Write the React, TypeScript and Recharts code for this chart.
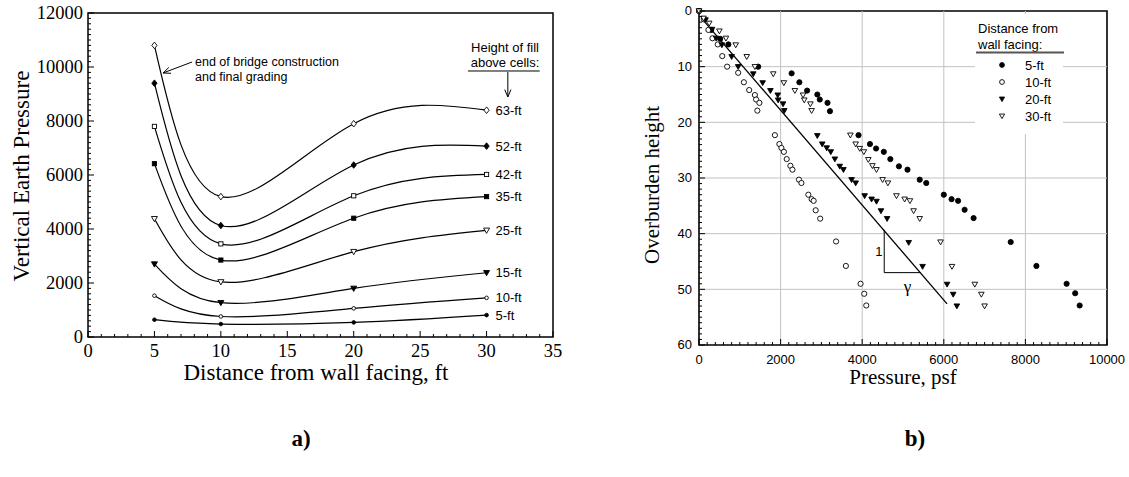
import React from "react";
import {
  LineChart,
  Line,
  XAxis,
  YAxis,
  ReferenceArea,
  ReferenceLine,
  ReferenceDot,
  ScatterChart,
  Scatter,
} from "recharts";

const SERIF = '"Liberation Serif", "Times New Roman", serif';
const SANS = '"Liberation Sans", Arial, sans-serif';

// ---- panel a: pressure vs distance from wall facing, one curve per fill height
const distances = [5, 10, 20, 30];
const fill63 = [10800, 5200, 7900, 8400];
const fill52 = [9400, 4130, 6370, 7070];
const fill42 = [7800, 3450, 5230, 6020];
const fill35 = [6420, 2850, 4400, 5200];
const fill25 = [4380, 2040, 3160, 3950];
const fill15 = [2700, 1270, 1800, 2380];
const fill10 = [1530, 760, 1060, 1450];
const fill5 = [640, 480, 540, 810];

const aXTicks = Array.from({ length: 36 }, (_, i) => i);
const aYTicks = Array.from({ length: 61 }, (_, i) => i * 200);

// ---- panel b: overburden height vs pressure, [pressure, height]
const wall5 = [
  [0, 0], [300, 3.4], [520, 5.0], [720, 6.0], [1450, 10.0], [2270, 11.2], [2460, 12.8],
  [2650, 14.3], [2900, 15.0], [2960, 15.9], [3150, 16.5], [3210, 18.0], [3910, 22.3],
  [4190, 23.9], [4340, 24.7], [4530, 25.3], [4690, 26.6], [4900, 27.9], [5110, 28.5],
  [5410, 30.3], [5570, 30.9], [6000, 33.0], [6190, 33.8], [6350, 34.1], [6510, 35.7],
  [6730, 37.2], [7640, 41.5], [8270, 45.8], [9010, 49.0], [9220, 50.7], [9330, 52.9],
];
const wall10 = [
  [0, 0], [120, 1.5], [230, 3.4], [330, 4.9], [460, 6.0], [570, 8.1], [690, 10.0],
  [960, 11.1], [1100, 12.8], [1230, 14.2], [1370, 15.1], [1400, 15.9], [1480, 16.5],
  [1430, 17.9], [1860, 22.3], [1970, 23.9], [2020, 24.6], [2080, 25.3], [2150, 26.6],
  [2240, 27.8], [2290, 28.5], [2450, 30.3], [2510, 30.9], [2680, 33.0], [2760, 33.8],
  [2810, 34.1], [2860, 35.8], [2970, 37.3], [3360, 41.4], [3600, 45.8], [3960, 49.0],
  [4050, 50.8], [4100, 52.9],
];
const wall20 = [
  [0, 0], [160, 1.6], [320, 3.3], [420, 4.9], [560, 6.1], [800, 8.2], [960, 10.0],
  [1330, 11.3], [1560, 12.9], [1750, 14.3], [1930, 15.1], [1940, 16.0], [2060, 16.7],
  [2090, 17.9], [2900, 22.4], [3020, 23.9], [3130, 24.6], [3230, 25.3], [3330, 26.6],
  [3450, 27.9], [3540, 28.5], [3740, 30.3], [3840, 30.9], [4060, 33.2], [4230, 33.8],
  [4350, 34.2], [4460, 35.9], [4610, 37.3], [5140, 41.6], [5480, 45.9], [6080, 49.1],
  [6230, 50.9], [6320, 53.0],
];
const wall30 = [
  [0, 0], [110, 1.3], [250, 2.2], [500, 3.6], [660, 4.9], [900, 6.1], [1170, 8.2],
  [1370, 10.0], [1820, 11.3], [2080, 12.9], [2350, 14.3], [2550, 15.1], [2580, 16.0],
  [2730, 16.7], [2760, 17.9], [3710, 22.3], [3840, 23.9], [3940, 24.7], [4040, 25.3],
  [4150, 26.7], [4250, 27.8], [4350, 28.5], [4500, 30.3], [4630, 30.9], [4840, 33.2],
  [5040, 33.8], [5170, 34.1], [5260, 35.9], [5410, 37.3], [5920, 41.5], [6200, 45.9],
  [6760, 49.1], [6920, 50.9], [7000, 53.0],
];
const unitWeightLine = [[50, 1.2], [6080, 52.6]];
const slopeCorner = [4540, 47.0];

const bXTicks = Array.from({ length: 51 }, (_, i) => i * 200);
const bYTicks = Array.from({ length: 61 }, (_, i) => i);
const bXGrid = [2000, 4000, 6000, 8000];
const bYGrid = [10, 20, 30, 40, 50];

type Kind =
  | "diamondOpen" | "diamondFilled" | "squareOpen" | "squareFilled"
  | "triOpen" | "triFilled" | "circleOpen" | "circleFilled";

function Sym({ kind, cx, cy, s }: { kind: Kind; cx: number; cy: number; s: number }) {
  const filled = kind.endsWith("Filled");
  const common = { fill: filled ? "#000" : "#fff", stroke: "#000", strokeWidth: 0.9 };
  if (kind.startsWith("diamond"))
    return <polygon points={`${cx},${cy - s} ${cx + s * 0.8},${cy} ${cx},${cy + s} ${cx - s * 0.8},${cy}`} {...common} />;
  if (kind.startsWith("square"))
    return <rect x={cx - s * 0.75} y={cy - s * 0.75} width={s * 1.5} height={s * 1.5} {...common} />;
  if (kind.startsWith("tri"))
    return <polygon points={`${cx - s},${cy - s * 0.75} ${cx + s},${cy - s * 0.75} ${cx},${cy + s}`} {...common} />;
  return <circle cx={cx} cy={cy} r={s} {...common} />;
}

const seriesA = [
  { key: "h63", name: "63-ft", vals: fill63, kind: "diamondOpen" as Kind, s: 3.3 },
  { key: "h52", name: "52-ft", vals: fill52, kind: "diamondFilled" as Kind, s: 3.3 },
  { key: "h42", name: "42-ft", vals: fill42, kind: "squareOpen" as Kind, s: 2.8 },
  { key: "h35", name: "35-ft", vals: fill35, kind: "squareFilled" as Kind, s: 2.8 },
  { key: "h25", name: "25-ft", vals: fill25, kind: "triOpen" as Kind, s: 3 },
  { key: "h15", name: "15-ft", vals: fill15, kind: "triFilled" as Kind, s: 3 },
  { key: "h10", name: "10-ft", vals: fill10, kind: "circleOpen" as Kind, s: 1.8 },
  { key: "h5", name: "5-ft", vals: fill5, kind: "circleFilled" as Kind, s: 1.8 },
];

const panelA = distances.map((d, i) => {
  const row: any = { x: d };
  seriesA.forEach((s) => (row[s.key] = s.vals[i]));
  return row;
});

const toPts = (a: number[][]) => a.map(([x, y]) => ({ x, y }));
const seriesB = [
  { name: "5-ft", data: toPts(wall5), kind: "circleFilled" as Kind, s: 2.6 },
  { name: "10-ft", data: toPts(wall10), kind: "circleOpen" as Kind, s: 2.6 },
  { name: "20-ft", data: toPts(wall20), kind: "triFilled" as Kind, s: 2.8 },
  { name: "30-ft", data: toPts(wall30), kind: "triOpen" as Kind, s: 2.8 },
];

// inward ticks, labels only on majors
const leftTick = (step: number, font: string, size: number, gap: number) => (p: any) => {
  const v = p.payload.value;
  const major = v % step === 0;
  return (
    <g>
      <line x1={p.x} y1={p.y} x2={p.x + (major ? 6 : 3)} y2={p.y} stroke="#000" strokeWidth={1} />
      {major && (
        <text x={p.x - gap} y={p.y} dy="0.34em" textAnchor="end" fontFamily={font} fontSize={size} fill="#000">
          {v}
        </text>
      )}
    </g>
  );
};
const bottomTick = (step: number, font: string, size: number, gap: number) => (p: any) => {
  const v = p.payload.value;
  const major = v % step === 0;
  return (
    <g>
      <line x1={p.x} y1={p.y} x2={p.x} y2={p.y - (major ? 6 : 3)} stroke="#000" strokeWidth={1} />
      {major && (
        <text x={p.x} y={p.y + gap} textAnchor="middle" fontFamily={font} fontSize={size} fill="#000">
          {v}
        </text>
      )}
    </g>
  );
};

const Arrow = (p: any) => {
  const { x1, y1, x2, y2 } = p;
  const a = Math.atan2(y2 - y1, x2 - x1);
  const h = 8;
  const w = 0.4;
  return (
    <g stroke="#000" strokeWidth={1} fill="none">
      <line x1={x1} y1={y1} x2={x2} y2={y2} />
      <polyline
        points={`${x2 - h * Math.cos(a - w)},${y2 - h * Math.sin(a - w)} ${x2},${y2} ${x2 - h * Math.cos(a + w)},${y2 - h * Math.sin(a + w)}`}
      />
    </g>
  );
};

const NoteText = ({ viewBox, text, size, font, dx = 0, dy = 0, anchor = "middle" }: any) => (
  <text x={viewBox.x + dx} y={viewBox.y + dy} textAnchor={anchor} fontFamily={font} fontSize={size} fill="#000">
    {text}
  </text>
);

export default function App() {
  return (
    <div style={{ position: "absolute", left: 0, top: 0, width: 1129, height: 477, background: "#fff" }}>
      <div style={{ position: "absolute", left: 0, top: 0 }}>
        <LineChart width={600} height={400} data={panelA} margin={{ top: 13, right: 47, bottom: 33, left: 0 }}>
          <XAxis
            type="number" dataKey="x" domain={[0, 35]} ticks={aXTicks} interval={0}
            axisLine={false} tickLine={false} tickSize={0} tickMargin={0} height={30}
            tick={bottomTick(5, SERIF, 18.5, 20)}
          />
          <YAxis
            type="number" domain={[0, 12000]} ticks={aYTicks} interval={0}
            axisLine={false} tickLine={false} tickSize={0} tickMargin={0} width={88}
            tick={leftTick(2000, SERIF, 18.5, 5)}
          />
          <ReferenceArea x1={0} x2={35} y1={0} y2={12000} fill="none" stroke="#000" strokeWidth={1.5} />
          {seriesA.map((s) => (
            <Line
              key={s.key}
              dataKey={s.key}
              type="natural"
              stroke="#000"
              strokeWidth={1.2}
              isAnimationActive={false}
              dot={(p: any) => (
                <g key={`${s.key}-${p.index}`}>
                  <Sym kind={s.kind} cx={p.cx} cy={p.cy} s={s.s} />
                  {p.index === distances.length - 1 && (
                    <text x={p.cx + 9} y={p.cy + 4.5} fontFamily={SANS} fontSize={13} fill="#000">
                      {s.name}
                    </text>
                  )}
                </g>
              )}
            />
          ))}
          <ReferenceLine segment={[{ x: 7.83, y: 10185 }, { x: 5.65, y: 9778 }]} shape={Arrow} />
          <ReferenceLine segment={[{ x: 31.6, y: 9815 }, { x: 31.6, y: 8890 }]} shape={Arrow} />
          <ReferenceLine segment={[{ x: 28.6, y: 9852 }, { x: 34.0, y: 9852 }]} stroke="#000" strokeWidth={1} />
        </LineChart>
      </div>

      <div style={{ position: "absolute", left: 600, top: 0 }}>
        <ScatterChart width={529} height={400} margin={{ top: 11, right: 22, bottom: 25, left: 0 }}>
          <XAxis
            type="number" dataKey="x" domain={[0, 10000]} ticks={bXTicks} interval={0}
            axisLine={false} tickLine={false} tickSize={0} tickMargin={0} height={30}
            tick={bottomTick(2000, SANS, 13, 19)}
          />
          <YAxis
            type="number" dataKey="y" domain={[0, 60]} reversed ticks={bYTicks} interval={0}
            axisLine={false} tickLine={false} tickSize={0} tickMargin={0} width={99}
            tick={leftTick(10, SANS, 13, 7)}
          />
          {bXGrid.map((v) => (
            <ReferenceLine key={`gx${v}`} x={v} stroke="#c2c2c2" strokeWidth={1} />
          ))}
          {bYGrid.map((v) => (
            <ReferenceLine key={`gy${v}`} y={v} stroke="#c2c2c2" strokeWidth={1} />
          ))}
          <ReferenceArea x1={0} x2={10000} y1={0} y2={60} fill="none" stroke="#000" strokeWidth={1.6} />
          <ReferenceLine
            segment={[{ x: unitWeightLine[0][0], y: unitWeightLine[0][1] }, { x: unitWeightLine[1][0], y: unitWeightLine[1][1] }]}
            stroke="#000" strokeWidth={1.3}
          />
          <ReferenceLine segment={[{ x: slopeCorner[0], y: 39.3 }, { x: slopeCorner[0], y: slopeCorner[1] }]} stroke="#000" strokeWidth={1} />
          <ReferenceLine segment={[{ x: slopeCorner[0], y: slopeCorner[1] }, { x: 5431, y: slopeCorner[1] }]} stroke="#000" strokeWidth={1} />
          <ReferenceDot x={4410} y={43.3} r={0.1} fill="none" stroke="none"
            label={<NoteText text="1" size={13} font={SANS} dy={4} />} />
          <ReferenceDot x={5110} y={49.6} r={0.1} fill="none" stroke="none"
            label={<NoteText text="γ" size={17} font={SERIF} dy={5} />} />
          {seriesB.map((s) => (
            <Scatter
              key={s.name}
              name={s.name}
              data={s.data}
              isAnimationActive={false}
              shape={(p: any) => <Sym kind={s.kind} cx={p.cx} cy={p.cy} s={s.s} />}
            />
          ))}
        </ScatterChart>
      </div>

      <svg width={1129} height={477} style={{ position: "absolute", left: 0, top: 0, pointerEvents: "none" }}>
        {/* panel a titles and notes */}
        <text transform="translate(21,176) rotate(-90)" dy="0.35em" textAnchor="middle" fontFamily={SERIF} fontSize={23}>
          Vertical Earth Pressure
        </text>
        <text x={316} y={380} textAnchor="middle" fontFamily={SERIF} fontSize={23}>
          Distance from wall facing, ft
        </text>
        <text x={195} y={66} fontFamily={SANS} fontSize={12.5}>end of bridge construction</text>
        <text x={195} y={81} fontFamily={SANS} fontSize={12.5}>and final grading</text>
        <text x={505} y={52} textAnchor="middle" fontFamily={SANS} fontSize={13}>Height of fill</text>
        <text x={505} y={67} textAnchor="middle" fontFamily={SANS} fontSize={13}>above cells:</text>
        <text x={301} y={446} textAnchor="middle" fontFamily={SERIF} fontSize={23} fontWeight="bold">a)</text>

        {/* panel b titles and legend */}
        <text transform="translate(652,185) rotate(-90)" dy="0.35em" textAnchor="middle" fontFamily={SERIF} fontSize={21}>
          Overburden height
        </text>
        <text x={903} y={384} textAnchor="middle" fontFamily={SERIF} fontSize={21}>Pressure, psf</text>
        <text x={915} y={446} textAnchor="middle" fontFamily={SERIF} fontSize={23} fontWeight="bold">b)</text>

        <rect x={975} y={14} width={88} height={120} fill="#fff" />
        <text x={978} y={33} fontFamily={SANS} fontSize={13}>Distance from</text>
        <text x={978} y={49} fontFamily={SANS} fontSize={13}>wall facing:</text>
        <line x1={976} y1={52.5} x2={1064} y2={52.5} stroke="#555" strokeWidth={1.8} />
        {seriesB.map((s, i) => (
          <g key={s.name}>
            <Sym kind={s.kind} cx={1002} cy={65 + i * 17} s={s.s - 0.2} />
            <text x={1025} y={65 + i * 17 + 4.5} fontFamily={SANS} fontSize={13}>{s.name}</text>
          </g>
        ))}
      </svg>
    </div>
  );
}
